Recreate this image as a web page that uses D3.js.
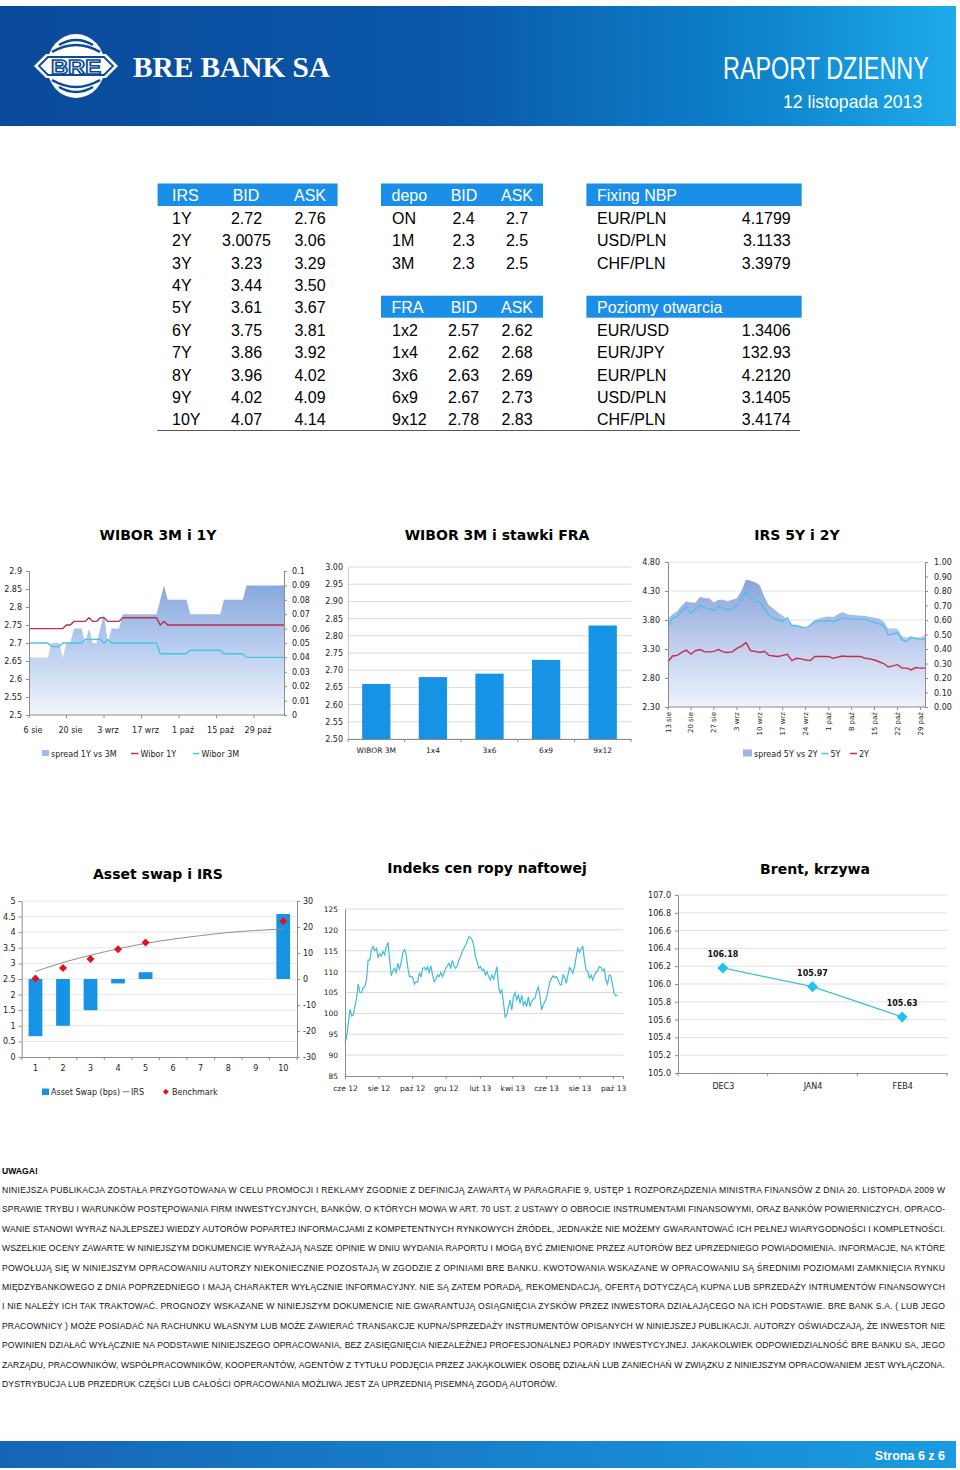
<!DOCTYPE html>
<html lang="pl"><head><meta charset="utf-8"><title>BRE Bank SA - Raport dzienny</title>
<script src="https://cdn.jsdelivr.net/npm/d3@7/dist/d3.min.js"></script>
<style>html,body{margin:0;padding:0;background:#fff;}svg{display:block;}</style>
</head><body>
<svg id="page" width="960" height="1470" xmlns="http://www.w3.org/2000/svg"></svg>
<script>
// ================= DATA =================
// Tables
const irsTenors = ["1Y","2Y","3Y","4Y","5Y","6Y","7Y","8Y","9Y","10Y"];
const irsBid = ["2.72","3.0075","3.23","3.44","3.61","3.75","3.86","3.96","4.02","4.07"];
const irsAsk = ["2.76","3.06","3.29","3.50","3.67","3.81","3.92","4.02","4.09","4.14"];
const depoTenors = ["ON","1M","3M"];
const depoBid = ["2.4","2.3","2.3"];
const depoAsk = ["2.7","2.5","2.5"];
const fraTenors = ["1x2","1x4","3x6","6x9","9x12"];
const fraBid = ["2.57","2.62","2.63","2.67","2.78"];
const fraAsk = ["2.62","2.68","2.69","2.73","2.83"];
const fixingPairs = ["EUR/PLN","USD/PLN","CHF/PLN"];
const fixingValues = ["4.1799","3.1133","3.3979"];
const openPairs = ["EUR/USD","EUR/JPY","EUR/PLN","USD/PLN","CHF/PLN"];
const openValues = ["1.3406","132.93","4.2120","3.1405","3.4174"];

// Chart 1: WIBOR 3M i 1Y (business days 6 sie .. 8 lis)
const wibor1Y = [
 2.74,2.74,2.74,2.74,2.74,2.74,2.74,2.74,2.74,2.74,
 2.75,2.75,2.76,2.76,2.76,2.76,2.77,2.76,2.76,2.77,
 2.77,2.76,2.76,2.76,2.76,2.77,2.77,2.77,2.77,2.77,
 2.77,2.77,2.77,2.77,2.77,2.75,2.76,2.75,2.75,2.75,
 2.75,2.75,2.75,2.75,2.75,2.75,2.75,2.75,2.75,2.75,
 2.75,2.75,2.75,2.75,2.75,2.75,2.75,2.75,2.75,2.75,
 2.75,2.75,2.75,2.75,2.75,2.75,2.75,2.75,2.75];
const wibor3M = [
 2.70,2.70,2.70,2.70,2.70,2.70,2.69,2.69,2.69,2.70,
 2.70,2.70,2.70,2.70,2.70,2.71,2.71,2.71,2.71,2.71,
 2.70,2.71,2.70,2.70,2.70,2.70,2.70,2.70,2.70,2.70,
 2.70,2.70,2.70,2.70,2.70,2.67,2.67,2.67,2.67,2.67,
 2.67,2.67,2.67,2.68,2.68,2.68,2.68,2.68,2.68,2.68,
 2.68,2.68,2.67,2.67,2.67,2.67,2.67,2.67,2.66,2.66,
 2.66,2.66,2.66,2.66,2.66,2.66,2.66,2.66,2.66];
const spread1Y3M = [
 0.04,0.04,0.04,0.04,0.04,0.04,0.05,0.05,0.05,0.04,
 0.05,0.05,0.06,0.06,0.06,0.05,0.06,0.05,0.05,0.06,
 0.07,0.05,0.06,0.06,0.06,0.07,0.07,0.07,0.07,0.07,
 0.07,0.07,0.07,0.07,0.07,0.08,0.09,0.08,0.08,0.08,
 0.08,0.08,0.08,0.07,0.07,0.07,0.07,0.07,0.07,0.07,
 0.07,0.07,0.08,0.08,0.08,0.08,0.08,0.08,0.09,0.09,
 0.09,0.09,0.09,0.09,0.09,0.09,0.09,0.09,0.09];
const c1LeftTicks = [2.5,2.55,2.6,2.65,2.7,2.75,2.8,2.85,2.9];
const c1RightTicks = [0,0.01,0.02,0.03,0.04,0.05,0.06,0.07,0.08,0.09,0.1];
const c1XLabels = ["6 sie","20 sie","3 wrz","17 wrz","1 paź","15 paź","29 paź"];
const c1XLabelIdx = [0,10,20,30,40,50,60];

// Chart 2: WIBOR 3M i stawki FRA
const fraChartCats = ["WIBOR 3M","1x4","3x6","6x9","9x12"];
const fraChartValues = [2.66,2.68,2.69,2.73,2.83];
const c2Ticks = [2.50,2.55,2.60,2.65,2.70,2.75,2.80,2.85,2.90,2.95,3.00];

// Chart 3: IRS 5Y i 2Y (business days 13 sie .. 30 paź)
const irs5Y = [
 3.69,3.83,3.86,3.95,4.03,3.91,3.99,4.05,4.01,4.00,
 3.96,4.03,4.00,3.97,3.99,4.05,4.17,4.30,4.17,4.13,
 4.11,3.99,3.88,3.83,3.80,3.78,3.84,3.70,3.70,3.68,
 3.66,3.71,3.77,3.78,3.78,3.79,3.77,3.80,3.84,3.82,
 3.82,3.81,3.81,3.81,3.78,3.76,3.74,3.70,3.54,3.56,
 3.58,3.46,3.43,3.50,3.48,3.47,3.47];
const irs2Y = [
 3.08,3.18,3.19,3.24,3.28,3.21,3.27,3.29,3.25,3.25,
 3.26,3.29,3.25,3.24,3.25,3.31,3.35,3.41,3.27,3.26,
 3.24,3.26,3.19,3.18,3.17,3.19,3.21,3.10,3.14,3.13,
 3.11,3.10,3.17,3.17,3.17,3.17,3.14,3.16,3.18,3.17,
 3.17,3.17,3.17,3.14,3.13,3.11,3.08,3.05,2.99,3.01,
 3.03,2.97,2.97,2.94,2.98,2.97,2.97];
const spread5Y2Y = [
 0.61,0.64,0.66,0.70,0.73,0.72,0.72,0.76,0.75,0.75,
 0.72,0.74,0.74,0.73,0.74,0.75,0.80,0.88,0.87,0.86,
 0.84,0.76,0.70,0.68,0.65,0.63,0.60,0.57,0.565,0.55,
 0.54,0.57,0.60,0.61,0.62,0.625,0.62,0.64,0.655,0.64,
 0.635,0.632,0.63,0.63,0.62,0.615,0.61,0.59,0.54,0.543,
 0.54,0.49,0.48,0.49,0.48,0.48,0.50];
const c3LeftTicks = [2.30,2.80,3.30,3.80,4.30,4.80];
const c3RightTicks = [0,0.1,0.2,0.3,0.4,0.5,0.6,0.7,0.8,0.9,1.0];
const c3XLabels = ["13 sie","20 sie","27 sie","3 wrz","10 wrz","17 wrz","24 wrz","1 paź","8 paź","15 paź","22 paź","29 paź"];
const c3XLabelIdx = [0,5,10,15,20,25,30,35,40,45,50,55];

// Chart 4: Asset swap i IRS
const aswCats = ["1","2","3","4","5","6","7","8","9","10"];
const aswBps = [-22,-18,-12,-1.7,2.6,null,null,null,null,25];
const irsCurve = [2.74,3.03,3.26,3.47,3.64,3.78,3.89,3.99,4.055,4.105];
const benchmark = [2.52,2.85,3.14,3.45,3.67,null,null,null,null,4.35];
const c4LeftTicks = [0,0.5,1,1.5,2,2.5,3,3.5,4,4.5,5];
const c4RightTicks = [-30,-20,-10,0,10,20,30];

// Chart 5: Indeks cen ropy naftowej (from 1 cze 2012, every 3 days)
const oilStart = "2012-06-01";
const oilStepDays = 3;
const oilIndex = [
 92.8,94.4,97.6,101.0,99.4,99.6,101.6,103.6,107.0,105.0,
 105.0,106.2,106.3,108.0,112.8,112.7,115.2,116.0,115.0,115.6,
 113.4,114.3,113.7,114.8,114.0,116.0,117.0,113.0,109.0,110.2,
 110.8,109.8,112.0,110.6,112.0,114.5,115.3,114.2,111.0,108.8,
 108.9,108.6,107.0,107.6,107.5,109.6,108.8,110.8,111.0,110.4,
 111.2,109.8,111.4,109.2,107.6,108.2,109.2,108.8,109.8,108.8,
 109.8,110.8,111.4,112.0,110.8,112.7,111.4,110.8,111.4,112.8,
 113.6,114.8,115.6,116.4,117.2,118.4,118.2,117.6,116.2,113.6,
 112.4,110.8,111.2,110.4,110.6,109.2,110.0,108.8,108.0,109.2,
 108.2,109.6,111.2,106.4,104.8,105.6,102.4,99.1,99.6,101.6,
 103.2,100.8,104.0,105.0,103.2,104.4,102.4,104.4,102.0,102.8,
 101.6,104.0,101.6,102.8,103.4,103.6,105.2,106.3,104.4,100.8,
 102.0,102.8,103.6,105.6,107.4,108.4,109.0,108.6,108.8,108.0,
 107.0,106.8,109.2,108.6,107.2,109.2,111.0,110.4,109.6,111.2,
 113.6,115.6,114.6,115.6,116.0,112.8,110.4,110.0,108.4,109.2,
 108.0,109.2,109.8,110.2,111.2,111.0,110.2,110.6,108.0,107.0,
 109.2,109.0,106.8,104.8,104.2,104.3];
const oilDomain = ["2012-06-01","2013-10-19"];
const c5Ticks = [85,90,95,100,105,110,115,120,125];
const c5XDates = ["2012-06-01","2012-08-01","2012-10-01","2012-12-01","2013-02-01","2013-04-01","2013-06-01","2013-08-01","2013-10-01"];
const c5XLabels = ["cze 12","sie 12","paź 12","gru 12","lut 13","kwi 13","cze 13","sie 13","paź 13"];

// Chart 6: Brent, krzywa
const brentCats = ["DEC3","JAN4","FEB4"];
const brentValues = [106.18,105.97,105.63];
const c6Ticks = [105.0,105.2,105.4,105.6,105.8,106.0,106.2,106.4,106.6,106.8,107.0];

// Disclaimer
const disclaimerTitle = "UWAGA!";
const disclaimerLines = [
"NINIEJSZA PUBLIKACJA ZOSTAŁA PRZYGOTOWANA W CELU PROMOCJI I REKLAMY ZGODNIE Z DEFINICJĄ ZAWARTĄ W PARAGRAFIE 9, USTĘP 1 ROZPORZĄDZENIA MINISTRA FINANSÓW Z DNIA 20. LISTOPADA 2009 W",
"SPRAWIE TRYBU I WARUNKÓW POSTĘPOWANIA FIRM INWESTYCYJNYCH, BANKÓW, O KTÓRYCH MOWA W ART. 70 UST. 2 USTAWY O OBROCIE INSTRUMENTAMI FINANSOWYMI, ORAZ BANKÓW POWIERNICZYCH. OPRACO-",
"WANIE STANOWI WYRAZ NAJLEPSZEJ WIEDZY AUTORÓW POPARTEJ INFORMACJAMI Z KOMPETENTNYCH RYNKOWYCH ŹRÓDEŁ, JEDNAKŻE NIE MOŻEMY GWARANTOWAĆ ICH PEŁNEJ WIARYGODNOŚCI I KOMPLETNOŚCI.",
"WSZELKIE OCENY ZAWARTE W NINIEJSZYM DOKUMENCIE WYRAŻAJĄ NASZE OPINIE W DNIU WYDANIA RAPORTU I MOGĄ BYĆ ZMIENIONE PRZEZ AUTORÓW BEZ UPRZEDNIEGO POWIADOMIENIA. INFORMACJE, NA KTÓRE",
"POWOŁUJĄ SIĘ W NINIEJSZYM OPRACOWANIU AUTORZY NIEKONIECZNIE POZOSTAJĄ W ZGODZIE Z OPINIAMI BRE BANKU. KWOTOWANIA WSKAZANE W OPRACOWANIU SĄ ŚREDNIMI POZIOMAMI ZAMKNIĘCIA RYNKU",
"MIĘDZYBANKOWEGO Z DNIA POPRZEDNIEGO I MAJĄ CHARAKTER WYŁĄCZNIE INFORMACYJNY. NIE SĄ ZATEM PORADĄ, REKOMENDACJĄ, OFERTĄ DOTYCZĄCĄ KUPNA LUB SPRZEDAŻY INTRUMENTÓW FINANSOWYCH",
"I NIE NALEŻY ICH TAK TRAKTOWAĆ. PROGNOZY WSKAZANE W NINIEJSZYM DOKUMENCIE NIE GWARANTUJĄ OSIĄGNIĘCIA ZYSKÓW PRZEZ INWESTORA DZIAŁAJĄCEGO NA ICH PODSTAWIE. BRE BANK S.A. ( LUB JEGO",
"PRACOWNICY ) MOŻE POSIADAĆ NA RACHUNKU WŁASNYM LUB MOŻE ZAWIERAĆ TRANSAKCJE KUPNA/SPRZEDAŻY INSTRUMENTÓW OPISANYCH W NINIEJSZEJ PUBLIKACJI. AUTORZY OŚWIADCZAJĄ, ŻE INWESTOR NIE",
"POWINIEN DZIAŁAĆ WYŁĄCZNIE NA PODSTAWIE NINIEJSZEGO OPRACOWANIA, BEZ ZASIĘGNIĘCIA NIEZALEŻNEJ PROFESJONALNEJ PORADY INWESTYCYJNEJ. JAKAKOLWIEK ODPOWIEDZIALNOŚĆ BRE BANKU SA, JEGO",
"ZARZĄDU, PRACOWNIKÓW, WSPÓŁPRACOWNIKÓW, KOOPERANTÓW, AGENTÓW Z TYTUŁU PODJĘCIA PRZEZ JAKĄKOLWIEK OSOBĘ DZIAŁAŃ LUB ZANIECHAŃ W ZWIĄZKU Z NINIEJSZYM OPRACOWANIEM JEST WYŁĄCZONA.",
"DYSTRYBUCJA LUB PRZEDRUK CZĘŚCI LUB CAŁOŚCI OPRACOWANIA MOŻLIWA JEST ZA UPRZEDNIĄ PISEMNĄ ZGODĄ AUTORÓW."
];

// ================= DRAWING =================
const FS = "'DejaVu Sans', Verdana, sans-serif";
const FA = "'Liberation Sans', Arial, Helvetica, sans-serif";
const svg = d3.select('#page');
const defs = svg.append('defs');
const AX = '#8c8c8c', GRID = '#dadada', TXT = '#222';

function grad(id, dir, stops) {
  const g = defs.append('linearGradient').attr('id', id)
    .attr('x1', 0).attr('y1', 0).attr('x2', dir === 'h' ? 1 : 0).attr('y2', dir === 'h' ? 0 : 1);
  stops.forEach(([o, c]) => g.append('stop').attr('offset', o).attr('stop-color', c));
}
grad('hdr', 'h', [[0, '#0a4a9b'], [0.45, '#0a56a8'], [0.8, '#0e84cd'], [1, '#1eabeb']]);
grad('ftr', 'h', [[0, '#1665b4'], [1, '#1a9be0']]);
grad('area1', 'v', [[0, '#86a8de'], [0.5, '#bccff0'], [1, '#f2f6fc']]);
grad('area3', 'v', [[0, '#8aa3da'], [0.5, '#bfcdee'], [1, '#eef2fb']]);

function txt(parent, x, y, s, o = {}) {
  return parent.append('text').attr('x', x).attr('y', y).text(s)
    .attr('font-family', o.ff || FA).attr('font-size', o.fs || 16)
    .attr('fill', o.fill || '#000').attr('text-anchor', o.a || 'start')
    .attr('font-weight', o.w || 'normal');
}
function styleAxis(g, fs) {
  g.attr('font-family', FS).attr('font-size', fs);
  g.selectAll('text').attr('fill', TXT);
  g.select('.domain').attr('stroke', AX);
  g.selectAll('.tick line').attr('stroke', AX);
}
const trim = d => String(+d.toFixed(2));

// ---------- Header ----------
const LOGO_BLUE = '#0a4a9b';
svg.append('rect').attr('x', 0).attr('y', 6).attr('width', 956).attr('height', 120).attr('fill', 'url(#hdr)');
const lg = svg.append('g').attr('transform', 'translate(76,66)');
lg.append('ellipse').attr('rx', 29).attr('ry', 32).attr('fill', '#fff');
[['M-17,-21 Q0,-31 17,-21', 2.6], ['M-24,-14 Q0,-28 24,-14', 2.6],
 ['M-17,21 Q0,31 17,21', 2.6], ['M-24,14 Q0,28 24,14', 2.6]].forEach(([d, w]) =>
  lg.append('path').attr('d', d).attr('fill', 'none').attr('stroke', LOGO_BLUE).attr('stroke-width', w));
lg.append('path').attr('d', 'M-42,0 L-30,-12 L30,-12 L42,0 L30,12 L-30,12 Z').attr('fill', '#fff');
lg.append('path').attr('d', 'M-37,0 L-28,-9 L28,-9 L37,0 L28,9 L-28,9 Z').attr('fill', 'none')
  .attr('stroke', LOGO_BLUE).attr('stroke-width', 1.8);
lg.append('text').attr('x', 0).attr('y', 7.5).attr('text-anchor', 'middle').text('BRE')
  .attr('font-family', FA).attr('font-weight', 'bold').attr('font-size', 21)
  .attr('fill', '#fff').attr('stroke', LOGO_BLUE).attr('stroke-width', 1.6)
  .attr('textLength', 50).attr('lengthAdjust', 'spacingAndGlyphs');
txt(svg, 133, 77, 'BRE BANK SA', { ff: "'Liberation Serif','Times New Roman',serif", fs: 30, w: 'bold', fill: '#fff' })
  .attr('textLength', 197).attr('lengthAdjust', 'spacingAndGlyphs');
svg.append('g').attr('transform', 'translate(723,79) scale(0.755,1)')
  .append('text').attr('x', 0).attr('y', 0).text('RAPORT DZIENNY')
  .attr('font-family', FA).attr('font-size', 31).attr('fill', '#fff');
svg.append('g').attr('transform', 'translate(783,108) scale(0.98,1)')
  .append('text').attr('x', 0).attr('y', 0).text('12 listopada 2013')
  .attr('font-family', FA).attr('font-size', 18).attr('fill', '#fff');

// ---------- Tables ----------
const BLUE = '#1b8fe7';
const rowBase = i => 217.7 + 22.4 * i + 6;
function hdrBox(x, y, w, h) { svg.append('rect').attr('x', x).attr('y', y).attr('width', w).attr('height', h).attr('fill', BLUE); }
// IRS
hdrBox(157.6, 183.5, 180, 22.5);
txt(svg, 172, 200.5, 'IRS', { fill: '#fff' });
txt(svg, 246, 200.5, 'BID', { fill: '#fff', a: 'middle' });
txt(svg, 310, 200.5, 'ASK', { fill: '#fff', a: 'middle' });
irsTenors.forEach((tn, i) => {
  txt(svg, 172, rowBase(i), tn);
  txt(svg, 246.5, rowBase(i), irsBid[i], { a: 'middle' });
  txt(svg, 310, rowBase(i), irsAsk[i], { a: 'middle' });
});
// depo
hdrBox(381, 183.5, 162, 22.5);
txt(svg, 391.5, 200.5, 'depo', { fill: '#fff' });
txt(svg, 464, 200.5, 'BID', { fill: '#fff', a: 'middle' });
txt(svg, 517, 200.5, 'ASK', { fill: '#fff', a: 'middle' });
depoTenors.forEach((tn, i) => {
  txt(svg, 392, rowBase(i), tn);
  txt(svg, 463.6, rowBase(i), depoBid[i], { a: 'middle' });
  txt(svg, 517, rowBase(i), depoAsk[i], { a: 'middle' });
});
// FRA
hdrBox(381, 295.7, 162, 22);
txt(svg, 391.5, 312.5, 'FRA', { fill: '#fff' });
txt(svg, 464, 312.5, 'BID', { fill: '#fff', a: 'middle' });
txt(svg, 517, 312.5, 'ASK', { fill: '#fff', a: 'middle' });
fraTenors.forEach((tn, i) => {
  txt(svg, 392, rowBase(i + 5), tn);
  txt(svg, 463.6, rowBase(i + 5), fraBid[i], { a: 'middle' });
  txt(svg, 517, rowBase(i + 5), fraAsk[i], { a: 'middle' });
});
// Fixing NBP
hdrBox(586.4, 183.5, 215.3, 22.5);
txt(svg, 597, 200.5, 'Fixing NBP', { fill: '#fff' });
fixingPairs.forEach((p, i) => {
  txt(svg, 597, rowBase(i), p);
  txt(svg, 790.7, rowBase(i), fixingValues[i], { a: 'end' });
});
// Poziomy otwarcia
hdrBox(586.4, 295.7, 215.3, 22);
txt(svg, 597, 312.5, 'Poziomy otwarcia', { fill: '#fff' });
openPairs.forEach((p, i) => {
  txt(svg, 597, rowBase(i + 5), p);
  txt(svg, 790.7, rowBase(i + 5), openValues[i], { a: 'end' });
});
svg.append('line').attr('x1', 157).attr('x2', 800).attr('y1', 430.5).attr('y2', 430.5).attr('stroke', '#555').attr('stroke-width', 1);

// ---------- Titles ----------
function title(x, y, s) { txt(svg, x, y, s, { ff: FS, fs: 14, w: 'bold', a: 'middle' }); }
title(158, 540, 'WIBOR 3M i 1Y');
title(497, 540, 'WIBOR 3M i stawki FRA');
title(797, 540, 'IRS 5Y i 2Y');
title(158, 879, 'Asset swap i IRS');
title(487, 873, 'Indeks cen ropy naftowej');
title(815, 874, 'Brent, krzywa');

// ---------- Chart 1 ----------
{
  const X0 = 29, X1 = 284, YT = 571, YB = 715;
  const x = d3.scaleLinear().domain([0, wibor1Y.length - 1]).range([X0, X1]);
  const yL = d3.scaleLinear().domain([2.5, 2.9]).range([YB, YT]);
  const yR = d3.scaleLinear().domain([0, 0.1]).range([YB, YT]);
  const g = svg.append('g');
  g.append('path').datum(spread1Y3M)
    .attr('d', d3.area().x((d, i) => x(i)).y0(YB).y1(d => yR(d))).attr('fill', 'url(#area1)');
  g.append('path').datum(wibor1Y)
    .attr('d', d3.line().x((d, i) => x(i)).y(d => yL(d))).attr('fill', 'none').attr('stroke', '#b8324c').attr('stroke-width', 1.4);
  g.append('path').datum(wibor3M)
    .attr('d', d3.line().x((d, i) => x(i)).y(d => yL(d))).attr('fill', 'none').attr('stroke', '#44c6e6').attr('stroke-width', 1.4);
  const aL = g.append('g').attr('transform', `translate(${X0},0)`)
    .call(d3.axisLeft(yL).tickValues(c1LeftTicks).tickFormat(trim).tickSize(3).tickPadding(4));
  styleAxis(aL, 8);
  const aR = g.append('g').attr('transform', `translate(${X1},0)`)
    .call(d3.axisRight(yR).tickValues(c1RightTicks).tickFormat(trim).tickSize(3).tickPadding(5));
  styleAxis(aR, 8);
  g.append('line').attr('x1', X0).attr('x2', X1).attr('y1', YB).attr('y2', YB).attr('stroke', AX);
  c1XLabelIdx.forEach((ix, k) => {
    g.append('line').attr('x1', x(ix)).attr('x2', x(ix)).attr('y1', YB).attr('y2', YB + 3).attr('stroke', AX);
    txt(g, x(ix) + 4, 733, c1XLabels[k], { ff: FS, fs: 8, a: 'middle', fill: TXT });
  });
  // legend
  g.append('rect').attr('x', 42).attr('y', 750).attr('width', 7).attr('height', 6).attr('fill', '#a3bde8');
  txt(g, 51, 756.5, 'spread 1Y vs 3M', { ff: FS, fs: 8, fill: TXT });
  g.append('line').attr('x1', 131).attr('x2', 138.5).attr('y1', 753.5).attr('y2', 753.5).attr('stroke', '#b8324c').attr('stroke-width', 1.5);
  txt(g, 140.5, 756.5, 'Wibor 1Y', { ff: FS, fs: 8, fill: TXT });
  g.append('line').attr('x1', 193).attr('x2', 199.5).attr('y1', 753.5).attr('y2', 753.5).attr('stroke', '#44c6e6').attr('stroke-width', 1.5);
  txt(g, 201.5, 756.5, 'Wibor 3M', { ff: FS, fs: 8, fill: TXT });
}

// ---------- Chart 2 ----------
{
  const X0 = 348, X1 = 631, YT = 567, YB = 739;
  const x = d3.scaleBand().domain(fraChartCats).range([X0, X1]).paddingInner(0.5).paddingOuter(0.25);
  const y = d3.scaleLinear().domain([2.5, 3.0]).range([YB, YT]);
  const g = svg.append('g');
  g.selectAll('.grid').data(c2Ticks).enter().append('line')
    .attr('x1', X0).attr('x2', X1).attr('y1', d => y(d)).attr('y2', d => y(d)).attr('stroke', GRID);
  g.selectAll('.bar').data(fraChartValues).enter().append('rect')
    .attr('x', (d, i) => x(fraChartCats[i])).attr('width', x.bandwidth())
    .attr('y', d => y(d)).attr('height', d => YB - y(d)).attr('fill', '#1793e6');
  const aL = g.append('g').attr('transform', `translate(${X0},0)`)
    .call(d3.axisLeft(y).tickValues(c2Ticks).tickFormat(d3.format('.2f')).tickSize(0).tickPadding(5));
  styleAxis(aL, 8);
  aL.select('.domain').attr('stroke', '#c8c8c8');
  const aB = g.append('g').attr('transform', `translate(0,${YB})`)
    .call(d3.axisBottom(x).tickSize(0).tickPadding(9));
  styleAxis(aB, 8);
  aB.selectAll('text').attr('font-size', 7.5);
  const step = x.step();
  d3.range(fraChartCats.length + 1).forEach(k => {
    const xx = X0 + k * step;
    g.append('line').attr('x1', xx).attr('x2', xx).attr('y1', YB).attr('y2', YB + 3).attr('stroke', AX);
  });
}

// ---------- Chart 3 ----------
{
  const X0 = 668, X1 = 925, YT = 562, YB = 707;
  const x = d3.scaleLinear().domain([0, irs5Y.length - 1]).range([X0, X1]);
  const yL = d3.scaleLinear().domain([2.3, 4.8]).range([YB, YT]);
  const yR = d3.scaleLinear().domain([0, 1]).range([YB, YT]);
  const g = svg.append('g');
  g.selectAll('.grid').data(c3LeftTicks.slice(1)).enter().append('line')
    .attr('x1', X0).attr('x2', X1).attr('y1', d => yL(d)).attr('y2', d => yL(d)).attr('stroke', '#e2e2e2');
  g.append('path').datum(spread5Y2Y)
    .attr('d', d3.area().x((d, i) => x(i)).y0(YB).y1(d => yR(d))).attr('fill', 'url(#area3)');
  g.append('path').datum(irs5Y)
    .attr('d', d3.line().x((d, i) => x(i)).y(d => yL(d))).attr('fill', 'none').attr('stroke', '#4cc2e8').attr('stroke-width', 1.4);
  g.append('path').datum(irs2Y)
    .attr('d', d3.line().x((d, i) => x(i)).y(d => yL(d))).attr('fill', 'none').attr('stroke', '#c0304a').attr('stroke-width', 1.4);
  const aL = g.append('g').attr('transform', `translate(${X0},0)`)
    .call(d3.axisLeft(yL).tickValues(c3LeftTicks).tickFormat(d3.format('.2f')).tickSize(3).tickPadding(5));
  styleAxis(aL, 8);
  const aR = g.append('g').attr('transform', `translate(${X1},0)`)
    .call(d3.axisRight(yR).tickValues(c3RightTicks).tickFormat(d3.format('.2f')).tickSize(3).tickPadding(6));
  styleAxis(aR, 8);
  g.append('line').attr('x1', X0).attr('x2', X1).attr('y1', YB).attr('y2', YB).attr('stroke', AX);
  c3XLabelIdx.forEach((ix, k) => {
    g.append('line').attr('x1', x(ix)).attr('x2', x(ix)).attr('y1', YB).attr('y2', YB + 3).attr('stroke', AX);
    g.append('text').attr('transform', `translate(${x(ix) + 2.5},712) rotate(-90)`)
      .attr('text-anchor', 'end').attr('font-family', FS).attr('font-size', 7).attr('fill', TXT).text(c3XLabels[k]);
  });
  g.append('rect').attr('x', 743).attr('y', 749.5).attr('width', 9).attr('height', 7).attr('fill', '#9fb4e2');
  txt(g, 754, 756.5, 'spread 5Y vs 2Y', { ff: FS, fs: 8, fill: TXT });
  g.append('line').attr('x1', 821.5).attr('x2', 828.5).attr('y1', 753.5).attr('y2', 753.5).attr('stroke', '#4cc2e8').attr('stroke-width', 1.5);
  txt(g, 830.5, 756.5, '5Y', { ff: FS, fs: 8, fill: TXT });
  g.append('line').attr('x1', 850).attr('x2', 857).attr('y1', 753.5).attr('y2', 753.5).attr('stroke', '#c0304a').attr('stroke-width', 1.5);
  txt(g, 859, 756.5, '2Y', { ff: FS, fs: 8, fill: TXT });
}

// ---------- Chart 4 ----------
{
  const X0 = 21.7, X1 = 297, YT = 901, YB = 1057;
  const x = d3.scaleBand().domain(aswCats).range([X0, X1]).paddingInner(0.5).paddingOuter(0.25);
  const cx = c => x(c) + x.bandwidth() / 2;
  const yL = d3.scaleLinear().domain([0, 5]).range([YB, YT]);
  const yR = d3.scaleLinear().domain([-30, 30]).range([YB, YT]);
  const g = svg.append('g');
  g.selectAll('.grid').data(c4LeftTicks.slice(1)).enter().append('line')
    .attr('x1', X0).attr('x2', X1).attr('y1', d => yL(d)).attr('y2', d => yL(d)).attr('stroke', '#e6e6e6');
  g.selectAll('.bar').data(aswBps.map((v, i) => ({ v, c: aswCats[i] })).filter(d => d.v !== null)).enter().append('rect')
    .attr('x', d => x(d.c)).attr('width', x.bandwidth())
    .attr('y', d => Math.min(yR(d.v), yR(0))).attr('height', d => Math.abs(yR(d.v) - yR(0))).attr('fill', '#1793e6');
  g.append('path').datum(irsCurve)
    .attr('d', d3.line().curve(d3.curveMonotoneX).x((d, i) => cx(aswCats[i])).y(d => yL(d)))
    .attr('fill', 'none').attr('stroke', '#8f8f8f').attr('stroke-width', 1);
  const dia = r => `M0,${-r}L${r},0L0,${r}L${-r},0Z`;
  g.selectAll('.bm').data(benchmark.map((v, i) => ({ v, c: aswCats[i] })).filter(d => d.v !== null)).enter().append('path')
    .attr('d', dia(4)).attr('transform', d => `translate(${cx(d.c)},${yL(d.v)})`).attr('fill', '#e0141e');
  const aL = g.append('g').attr('transform', `translate(${X0},0)`)
    .call(d3.axisLeft(yL).tickValues(c4LeftTicks).tickFormat(trim).tickSize(3).tickPadding(3));
  styleAxis(aL, 8);
  const aR = g.append('g').attr('transform', `translate(${X1},0)`)
    .call(d3.axisRight(yR).tickValues(c4RightTicks).tickFormat(trim).tickSize(3).tickPadding(3));
  styleAxis(aR, 8);
  const aB = g.append('g').attr('transform', `translate(0,${YB})`)
    .call(d3.axisBottom(x).tickSize(0).tickPadding(8));
  styleAxis(aB, 8);
  const step = x.step();
  d3.range(aswCats.length + 1).forEach(k => {
    const xx = X0 + k * step;
    g.append('line').attr('x1', xx).attr('x2', xx).attr('y1', YB).attr('y2', YB + 3).attr('stroke', AX);
  });
  g.append('rect').attr('x', 42).attr('y', 1088.5).attr('width', 7).attr('height', 6.5).attr('fill', '#1793e6');
  txt(g, 51, 1095, 'Asset Swap (bps)', { ff: FS, fs: 8, fill: TXT });
  g.append('line').attr('x1', 122.7).attr('x2', 129.3).attr('y1', 1091.7).attr('y2', 1091.7).attr('stroke', '#8f8f8f').attr('stroke-width', 1.2);
  txt(g, 131, 1095, 'IRS', { ff: FS, fs: 8, fill: TXT });
  g.append('path').attr('d', dia(3)).attr('transform', 'translate(165.8,1091.7)').attr('fill', '#e0141e');
  txt(g, 172, 1095, 'Benchmark', { ff: FS, fs: 8, fill: TXT });
}

// ---------- Chart 5 ----------
{
  const X0 = 345, X1 = 623, YT = 909, YB = 1076;
  const parse = d3.timeParse('%Y-%m-%d');
  const x = d3.scaleTime().domain(oilDomain.map(parse)).range([X0, X1]);
  const y = d3.scaleLinear().domain([85, 125]).range([YB, YT]);
  const start = parse(oilStart);
  const g = svg.append('g');
  g.selectAll('.grid').data(c5Ticks.slice(1)).enter().append('line')
    .attr('x1', X0).attr('x2', X1).attr('y1', d => y(d)).attr('y2', d => y(d)).attr('stroke', GRID);
  g.append('path').datum(oilIndex)
    .attr('d', d3.line().x((d, i) => x(d3.timeDay.offset(start, i * oilStepDays))).y(d => y(d)))
    .attr('fill', 'none').attr('stroke', '#3ebdd6').attr('stroke-width', 1.2);
  const aL = g.append('g').attr('transform', `translate(${X0},0)`)
    .call(d3.axisLeft(y).tickValues(c5Ticks).tickSize(0).tickPadding(7));
  styleAxis(aL, 7.5);
  const aB = g.append('g').attr('transform', `translate(0,${YB})`)
    .call(d3.axisBottom(x).tickValues(c5XDates.map(parse)).tickFormat((d, i) => c5XLabels[i]).tickSize(3).tickPadding(7));
  styleAxis(aB, 7.5);
}

// ---------- Chart 6 ----------
{
  const X0 = 678, X1 = 947, YT = 895, YB = 1073;
  const x = d3.scalePoint().domain(brentCats).range([X0, X1]).padding(0.5);
  const y = d3.scaleLinear().domain([105, 107]).range([YB, YT]);
  const g = svg.append('g');
  g.selectAll('.grid').data(c6Ticks.slice(1)).enter().append('line')
    .attr('x1', X0).attr('x2', X1).attr('y1', d => y(d)).attr('y2', d => y(d)).attr('stroke', '#e2e2e2');
  g.append('path').datum(brentValues)
    .attr('d', d3.line().x((d, i) => x(brentCats[i])).y(d => y(d)))
    .attr('fill', 'none').attr('stroke', '#3fc1cf').attr('stroke-width', 1.3);
  g.selectAll('.pt').data(brentValues).enter().append('path')
    .attr('d', 'M0,-5.5L5.5,0L0,5.5L-5.5,0Z')
    .attr('transform', (d, i) => `translate(${x(brentCats[i])},${y(d)})`).attr('fill', '#1ec1ef');
  g.selectAll('.lbl').data(brentValues).enter().append('text')
    .attr('x', (d, i) => x(brentCats[i])).attr('y', d => y(d) - 11).attr('text-anchor', 'middle')
    .attr('font-family', FS).attr('font-size', 8).attr('font-weight', 'bold').attr('fill', '#111')
    .text(d => d3.format('.2f')(d));
  const aL = g.append('g').attr('transform', `translate(${X0},0)`)
    .call(d3.axisLeft(y).tickValues(c6Ticks).tickFormat(d3.format('.1f')).tickSize(3).tickPadding(4));
  styleAxis(aL, 8);
  const aB = g.append('g').attr('transform', `translate(0,${YB})`)
    .call(d3.axisBottom(x).tickSize(0).tickPadding(10));
  styleAxis(aB, 8);
  const step = x.step();
  d3.range(brentCats.length + 1).forEach(k => {
    const xx = X0 + k * step;
    g.append('line').attr('x1', xx).attr('x2', xx).attr('y1', YB).attr('y2', YB + 3).attr('stroke', AX);
  });
}

// ---------- Disclaimer ----------
txt(svg, 2, 1173.5, disclaimerTitle, { fs: 8.6, w: 'bold' });
disclaimerLines.forEach((s, i) => {
  const el = txt(svg, 2, 1193 + 19.4 * i, s, { fs: 8.6, fill: '#111' });
  el.attr('textLength', i < disclaimerLines.length - 1 ? 943 : 555).attr('lengthAdjust', 'spacing');
});

// ---------- Footer ----------
svg.append('rect').attr('x', 0).attr('y', 1441).attr('width', 956).attr('height', 27).attr('fill', 'url(#ftr)');
txt(svg, 945, 1460, 'Strona 6 z 6', { fs: 12.5, w: 'bold', fill: '#fff', a: 'end' });
</script>
</body></html>
